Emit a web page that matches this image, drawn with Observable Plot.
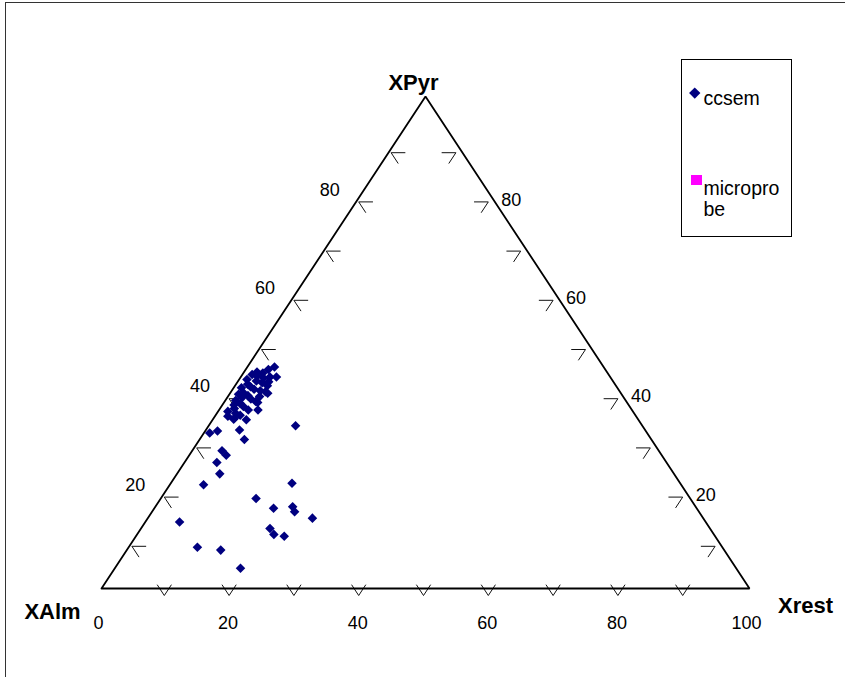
<!DOCTYPE html>
<html>
<head>
<meta charset="utf-8">
<script src="https://cdn.jsdelivr.net/npm/d3@7"></script>
<script src="https://cdn.jsdelivr.net/npm/@observablehq/plot@0.6"></script>
<style>
  html, body { margin: 0; padding: 0; background: #fff; }
  #wrap { position: relative; width: 845px; height: 677px; overflow: hidden;
          font-family: "Liberation Sans", Arial, sans-serif; }
  #frame { position: absolute; left: 5px; top: 2px; width: 900px; height: 720px;
           border-left: 1.5px solid #333; border-top: 1.5px solid #333; }
  #chart { position: absolute; left: 0; top: 0; }
  #legend { position: absolute; left: 681px; top: 59px; width: 109px; height: 176px;
            border: 1.5px solid #000; background: #fff; }
  .lg-diamond { position: absolute; left: 9.2px; top: 28.7px; width: 7.5px; height: 7.5px;
                background: #000080; transform: rotate(45deg); }
  .lg-square { position: absolute; left: 8.5px; top: 114.5px; width: 11px; height: 10px;
               background: #ff00ff; }
  .lg-text { position: absolute; left: 21.5px; font-size: 19.5px; line-height: 21px;
             color: #000; width: 84px; word-break: break-all; }
</style>
</head>
<body>
<div id="wrap">
  <div id="frame"></div>
  <div id="chart"></div>
  <div id="legend">
    <div class="lg-diamond"></div>
    <div class="lg-text" style="top:27.5px">ccsem</div>
    <div class="lg-square"></div>
    <div class="lg-text" style="top:117.5px">microprobe</div>
  </div>
</div>
<script>
// ---- Data (ternary percentages) ----
// series "ccsem": XPyr and Xrest values (XAlm = 100 - XPyr - Xrest)
const ccsemXPyr = [
  13.5, 8.4, 7.8, 4.1, 21.1, 23.3, 25.6, 28.0, 27.1, 31.6, 32.0, 18.3, 16.3, 21.4, 16.6, 15.6, 14.3, 12.2, 11.0, 10.6, 33.1, 32.2, 30.3,
  45.0, 43.0, 39.7, 36.3, 34.3, 34.4,
  43.5, 43.2, 43.8, 42.8, 44.0, 42.5, 42.2, 41.8, 41.5, 41.0, 40.8, 40.5, 40.2, 39.8, 39.5, 39.2, 38.8, 38.5, 38.2, 38.0,
  37.6, 37.3, 37.0, 36.6, 36.3, 36.0, 35.6, 35.2, 35.0, 34.6, 41.2, 40.0, 42.0, 43.0, 44.5, 37.8, 39.0
];
const ccsemXrest = [
  5.3, 10.6, 14.5, 19.4, 5.2, 6.6, 5.0, 4.6, 5.7, 0.9, 1.9, 14.7, 18.4, 18.7, 21.2, 22.0, 25.4, 19.9, 21.1, 22.9, 13.4, 5.2, 6.9,
  4.2, 5.5, 5.8, 6.0, 5.2, 3.2,
  1.5, 2.4, 3.0, 3.6, 2.0, 1.2, 2.8, 3.9, 1.8, 2.5, 1.2, 3.3, 4.4, 2.0, 1.4, 3.0, 2.3, 3.8, 1.6, 4.8,
  2.6, 1.8, 3.4, 2.2, 4.5, 1.5, 2.9, 3.8, 2.0, 3.2, 5.0, 5.3, 4.8, 4.5, 3.5, 5.2, 4.9
];
// series "microprobe": no points visible in the chart
const microprobeXPyr = [];
const microprobeXrest = [];

// axis ticks and labels
const tickValues = [10, 20, 30, 40, 50, 60, 70, 80, 90];
const bottomLabels = [0, 20, 40, 60, 80, 100];
const sideLabels = [20, 40, 60, 80];
const cornerTitles = ["XAlm", "XPyr", "Xrest"];

// ---- Build tables ----
const toXY = (pyr, rest) => ({ x: rest + pyr / 2, y: pyr });
const ccsem = ccsemXPyr.map((p, i) => ({ XPyr: p, Xrest: ccsemXrest[i], XAlm: 100 - p - ccsemXrest[i], ...toXY(p, ccsemXrest[i]) }));
const micro = microprobeXPyr.map((p, i) => ({ XPyr: p, Xrest: microprobeXrest[i], ...toXY(p, microprobeXrest[i]) }));

// triangle corners: pure XAlm, pure Xrest, pure XPyr
const corners = [toXY(0, 0), toXY(0, 100), toXY(100, 0), toXY(0, 0)];

const L = 2.2; // tick arm length (in percent units)
const tickLinks = [];
for (const t of tickValues) {
  // bottom axis (Xrest reading)
  tickLinks.push({ x1: t, y1: 0, x2: t - L / 2, y2: L });
  tickLinks.push({ x1: t, y1: 0, x2: t + L / 2, y2: L });
  // left edge
  const lx = t / 2;
  tickLinks.push({ x1: lx, y1: t, x2: lx + L, y2: t });
  tickLinks.push({ x1: lx, y1: t, x2: lx + L / 2, y2: t - L });
  // right edge
  const rx = 100 - t / 2;
  tickLinks.push({ x1: rx, y1: t, x2: rx - L, y2: t });
  tickLinks.push({ x1: rx, y1: t, x2: rx - L / 2, y2: t - L });
}

const font = "Liberation Sans, Arial, sans-serif";

const chart = Plot.plot({
  width: 845,
  height: 677,
  margin: 0,
  x: { domain: [0, 100], range: [101, 749], axis: null },
  y: { domain: [0, 100], range: [588, 96], axis: null },
  style: { background: "transparent", overflow: "visible" },
  marks: [
    Plot.link(tickLinks, { x1: "x1", y1: "y1", x2: "x2", y2: "y2", stroke: "#111", strokeWidth: 1, dx: -2, dy: 7 }),
    Plot.line(corners, { x: "x", y: "y", stroke: "#000", strokeWidth: 1.8, strokeLinejoin: "miter" }),
    Plot.text(bottomLabels, { x: d => d, y: 0, text: d => String(d), dy: 35, dx: -3, fontSize: 18, fontFamily: font, fill: "#000" }),
    Plot.text(sideLabels, { x: d => d / 2, y: d => d, text: d => String(d), dx: -31, dy: -5, fontSize: 18, fontFamily: font, fill: "#000" }),
    Plot.text(sideLabels, { x: d => 100 - d / 2, y: d => d, text: d => String(d), dx: 21, dy: 5, fontSize: 18, fontFamily: font, fill: "#000" }),
    Plot.text([cornerTitles[0]], { x: 0, y: 0, text: d => d, dx: -49, dy: 23, fontSize: 22, fontWeight: "bold", fontFamily: font, fill: "#000" }),
    Plot.text([cornerTitles[1]], { x: 50, y: 100, text: d => d, dx: -12, dy: -14, fontSize: 22, fontWeight: "bold", fontFamily: font, fill: "#000" }),
    Plot.text([cornerTitles[2]], { x: 100, y: 0, text: d => d, dx: 56, dy: 17, fontSize: 22, fontWeight: "bold", fontFamily: font, fill: "#000" }),
    Plot.dot(ccsem, { x: "x", y: "y", symbol: "diamond2", r: 4.3, fill: "#000080", stroke: "none" }),
    Plot.dot(micro, { x: "x", y: "y", symbol: "square", r: 3.5, fill: "#ff00ff", stroke: "none" })
  ]
});
document.getElementById("chart").appendChild(chart);
</script>
</body>
</html>
